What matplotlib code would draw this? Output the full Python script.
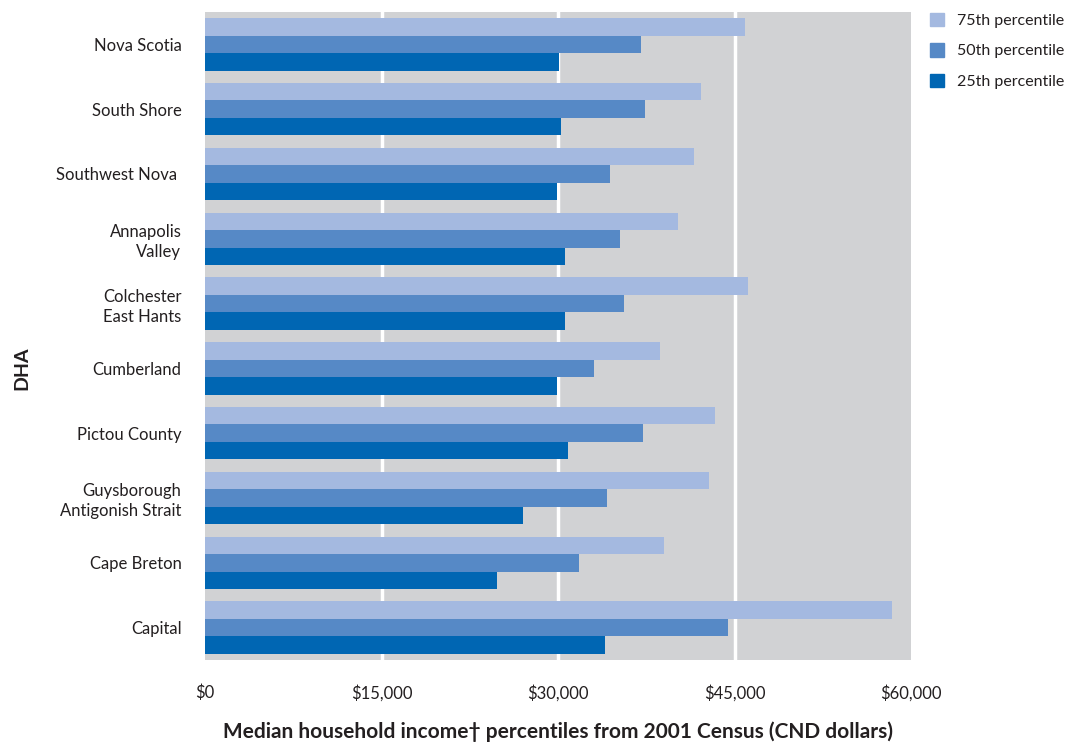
import matplotlib
matplotlib.use("Agg")
import matplotlib.pyplot as plt
import numpy as np
from matplotlib.patches import Patch

regions = ["Nova Scotia", "South Shore", "Southwest Nova ", "Annapolis\nValley",
           "Colchester\nEast Hants", "Cumberland", "Pictou County",
           "Guysborough\nAntigonish Strait", "Cape Breton", "Capital"]
p75 = [45900, 42150, 41550, 40200, 46150, 38650, 43350, 42850, 39000, 58400]
p50 = [37050, 37400, 34400, 35250, 35600, 33050, 37200, 34150, 31800, 44450]
p25 = [30100, 30250, 29900, 30600, 30600, 29900, 30850, 27000, 24800, 34000]
xticks = [0, 15000, 30000, 45000, 60000]
xticklabels = ["$0", "$15,000", "$30,000", "$45,000", "$60,000"]

c75, c50, c25 = "#a4b9e0", "#5689c6", "#0066b3"

plt.rcParams['font.family'] = ['Lato', 'DejaVu Sans']

fig = plt.figure(figsize=(10.66, 7.43), dpi=100)
ax = fig.add_axes([205/1066, 1-660/743, (911-205)/1066, (660-12)/743])
ax.set_facecolor("#d1d2d4")

y = np.arange(len(regions))
h = 0.27
ax.barh(y - h, p75, height=h, color=c75, zorder=3)
ax.barh(y, p50, height=h, color=c50, zorder=3)
ax.barh(y + h, p25, height=h, color=c25, zorder=3)

ax.set_xlim(0, 60000)
ax.set_ylim(9.5, -0.5)
ax.set_xticks(xticks)
ax.set_xticklabels(xticklabels, fontsize=12, color="#231f20")
ax.set_yticks(y)
ax.set_yticklabels(regions, fontsize=12, color="#231f20", linespacing=1.3)
ax.tick_params(axis='both', length=0)
ax.tick_params(axis='x', pad=18)
ax.tick_params(axis='y', pad=17)
for s in ax.spines.values():
    s.set_visible(False)
for xv in xticks[1:-1]:
    ax.axvline(xv, color="white", lw=2.5, zorder=2)

ax.set_xlabel("Median household income\u2020 percentiles from 2001 Census (CND dollars)",
              fontsize=15, fontweight="bold", color="#231f20", labelpad=14)
fig.text(22/1066, 1-368/743, "DHA", rotation=90, fontsize=14, fontweight="bold",
         color="#231f20", ha="center", va="center")

handles = [Patch(color=c75, label="75th percentile"),
           Patch(color=c50, label="50th percentile"),
           Patch(color=c25, label="25th percentile")]
fig.legend(handles=handles, loc="upper left", bbox_to_anchor=(930/1066, 1-13/743),
           borderaxespad=0, borderpad=0,
           frameon=False, fontsize=11.5, handlelength=0.9, handleheight=0.9,
           handletextpad=0.8, labelspacing=0.95, labelcolor="#231f20")

fig.savefig("out.png", dpi=100)
